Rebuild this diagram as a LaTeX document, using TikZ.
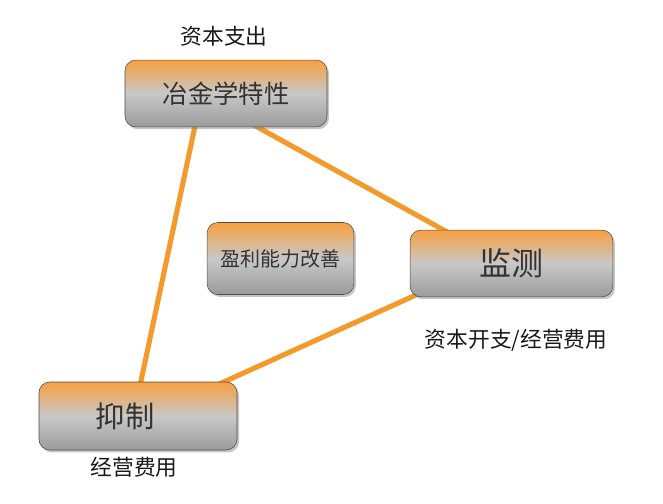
\documentclass[tikz,border=0pt]{standalone}
\usepackage{fontspec}
\setmainfont{Noto Sans CJK SC}
\usetikzlibrary{calc,shadows}
\pgfdeclarelayer{background}
\pgfsetlayers{background,main}
\begin{document}
\begin{tikzpicture}[x=0.75pt,y=-0.75pt,
  box/.style={rounded corners=8pt, draw=gray!60!black, line width=0.4pt,
    top color={rgb,255:red,247;green,160;blue,64}, bottom color={rgb,255:red,155;green,155;blue,155},
    middle color={rgb,255:red,200;green,200;blue,200},
    drop shadow={shadow xshift=1.5pt,shadow yshift=-1.8pt,opacity=0.45},
    inner sep=0pt, text=black!80},
  link/.style={line width=3.8pt, draw={rgb,255:red,243;green,154;blue,43}},
  lab/.style={font=\fontsize{16.3}{19}\selectfont, text=black!90}]
\useasboundingbox (0,0) rectangle (663,503);
\node[box, minimum width=151.5pt, minimum height=50pt, font=\fontsize{19}{22}\selectfont] (met) at (226,93.5) {冶金学特性};
\node[box, minimum width=110pt, minimum height=54pt, font=\fontsize{15}{18}\selectfont] (pro) at (280.5,258.5) {盈利能力改善};
\node[box, minimum width=152pt, minimum height=50pt, font=\fontsize{24}{26}\selectfont] (mon) at (511.5,263.5) {监测};
\node[box, minimum width=148.5pt, minimum height=51pt, font=\fontsize{22}{24}\selectfont] (sup) at (138,416) {\hspace*{-19.5pt}抑制};
\node[lab] (l1) at (224,36) {资本支出};
\node[lab] (l2) at (516,340) {资本开支/经营费用};
\node[lab] (l3) at (134,467) {经营费用};
\begin{pgfonlayer}{background}
\draw[link] ($(met.south west)!0.35!(met.south east)+(0,-4)$) -- ($(sup.north west)!0.51!(sup.north east)+(0,4)$);
\draw[link] ($(met.south west)!0.62!(met.south east)+(0,-4)$) -- ($(mon.north west)!0.2!(mon.north east)+(0,4)$);
\draw[link] ($(mon.south west)!0.05!(mon.south east)+(0,-4)$) -- ($(sup.north west)!0.89!(sup.north east)+(0,4)$);
\end{pgfonlayer}
\end{tikzpicture}
\end{document}
